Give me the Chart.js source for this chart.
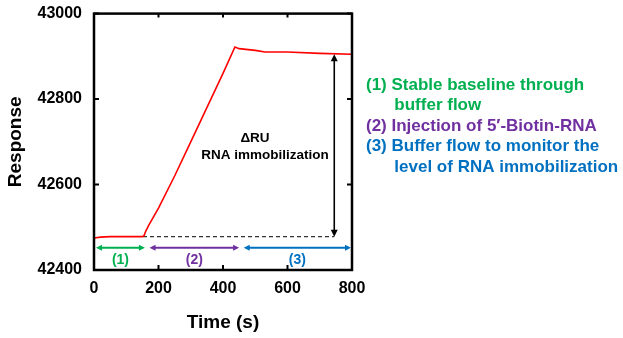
<!DOCTYPE html>
<html>
<head>
<meta charset="utf-8">
<script src="https://cdn.jsdelivr.net/npm/chart.js@4"></script>
<style>
  html, body { margin: 0; padding: 0; background: #fff; }
  #wrap { width: 623px; height: 338px; position: relative; }
</style>
</head>
<body>
<div id="wrap"><canvas id="sprChart" width="623" height="338"></canvas></div>
<script>
// sensorgram
const timeS = [0, 20, 50, 100, 150, 155, 160, 170, 200, 250, 300, 350, 400, 437, 450, 500, 530, 600, 700, 800];
const response = [42475, 42477, 42478, 42478, 42478, 42480, 42490, 42505, 42545, 42620, 42700, 42780, 42860, 42922, 42918, 42914, 42910, 42910, 42907, 42905];
const baselineY = 42478;
const baselineX = [152, 745];
const deltaX = 745;
const deltaTop = 42905;
const phaseY = 42452;
const phaseLabelY = 42422;
const phases = [
    { label: '(1)', from: 0, to: 158, color: '#00b050' },
    { label: '(2)', from: 166, to: 450, color: '#7030a0' },
    { label: '(3)', from: 458, to: 800, color: '#0070c0' }
];
const xTicks = [0, 200, 400, 600, 800];
const yTicks = [42400, 42600, 42800, 43000];
const notes = [
    { lines: ['(1) Stable baseline through', '      buffer flow'], color: '#00b050' },
    { lines: ['(2) Injection of 5\u2032-Biotin-RNA'], color: '#7030a0' },
    { lines: ['(3) Buffer flow to monitor the', '      level of RNA immobilization'], color: '#0070c0' }
];

const FONT = '"Liberation Sans", Arial, sans-serif';

function arrowHead(ctx, x, y, dx, dy, size) {
    // dx,dy = direction the arrow points
    const len = Math.hypot(dx, dy);
    const ux = dx / len, uy = dy / len;
    ctx.beginPath();
    ctx.moveTo(x, y);
    ctx.lineTo(x - ux * size - uy * size * 0.5, y - uy * size + ux * size * 0.5);
    ctx.lineTo(x - ux * size + uy * size * 0.5, y - uy * size - ux * size * 0.5);
    ctx.closePath();
    ctx.fill();
}

const extras = {
    id: 'extras',
    afterDatasetsDraw(chart) {
        const ctx = chart.ctx;
        const xs = chart.scales.x, ys = chart.scales.y;
        const a = chart.chartArea;
        ctx.save();

        // frame and inward ticks
        ctx.strokeStyle = '#000';
        ctx.lineWidth = 2.5;
        ctx.strokeRect(a.left, a.top, a.right - a.left, a.bottom - a.top);
        ctx.lineWidth = 2;
        xTicks.forEach(t => {
            const px = xs.getPixelForValue(t);
            ctx.beginPath();
            ctx.moveTo(px, a.bottom); ctx.lineTo(px, a.bottom - 5);
            ctx.moveTo(px, a.top); ctx.lineTo(px, a.top + 4);
            ctx.stroke();
        });
        yTicks.forEach(t => {
            const py = ys.getPixelForValue(t);
            ctx.beginPath();
            ctx.moveTo(a.left, py); ctx.lineTo(a.left + 5, py);
            ctx.moveTo(a.right, py); ctx.lineTo(a.right - 5, py);
            ctx.stroke();
        });

        // delta RU arrow
        const ax = xs.getPixelForValue(deltaX);
        const y0 = ys.getPixelForValue(baselineY);
        const y1 = ys.getPixelForValue(deltaTop);
        ctx.fillStyle = '#000';
        ctx.lineWidth = 1.6;
        ctx.beginPath();
        ctx.moveTo(ax, y0 - 5); ctx.lineTo(ax, y1 + 5);
        ctx.stroke();
        arrowHead(ctx, ax, y0, 0, 1, 7);
        arrowHead(ctx, ax, y1, 0, -1, 7);

        ctx.font = 'bold 13.5px ' + FONT;
        ctx.textAlign = 'center';
        ctx.textBaseline = 'middle';
        ctx.fillText('\u0394RU', 255, 138);
        ctx.fillText('RNA immobilization', 265, 155);

        // phase arrows
        const py = ys.getPixelForValue(phaseY);
        const ly = ys.getPixelForValue(phaseLabelY);
        phases.forEach(p => {
            const x0 = xs.getPixelForValue(p.from) + 2;
            const x1 = Math.min(xs.getPixelForValue(p.to), a.right - 1);
            ctx.strokeStyle = p.color;
            ctx.fillStyle = p.color;
            ctx.lineWidth = 2;
            ctx.beginPath();
            ctx.moveTo(x0 + 4, py); ctx.lineTo(x1 - 4, py);
            ctx.stroke();
            arrowHead(ctx, x0, py, -1, 0, 6);
            arrowHead(ctx, x1, py, 1, 0, 6);
            ctx.font = 'bold 14px ' + FONT;
            ctx.fillText(p.label, (x0 + x1) / 2, ly);
        });

        // notes on the right
        ctx.textAlign = 'left';
        ctx.font = 'bold 17px ' + FONT;
        let ny = 85;
        notes.forEach(n => {
            ctx.fillStyle = n.color;
            n.lines.forEach(line => {
                ctx.fillText(line, 366, ny);
                ny += 20.5;
            });
        });
        ctx.restore();
    }
};

new Chart(document.getElementById('sprChart'), {
    type: 'line',
    data: {
        datasets: [{
            data: timeS.map((t, i) => ({ x: t, y: response[i] })),
            borderColor: '#ff0000',
            borderWidth: 1.6,
            pointRadius: 0,
            tension: 0
        }, {
            data: baselineX.map(t => ({ x: t, y: baselineY })),
            borderColor: '#333',
            borderWidth: 1.4,
            borderDash: [4, 3],
            pointRadius: 0
        }]
    },
    options: {
        responsive: false,
        animation: false,
        layout: { padding: { top: 13, right: 271, left: 0, bottom: 0 } },
        plugins: { legend: { display: false }, tooltip: { enabled: false } },
        scales: {
            x: {
                type: 'linear', min: 0, max: 800,
                afterFit(s) { s.height = 68; },
                afterBuildTicks(s) { s.ticks = xTicks.map(v => ({ value: v })); },
                grid: { display: false },
                border: { display: false },
                ticks: { color: '#000', font: { family: FONT, size: 16, weight: 'bold' }, padding: 1, maxRotation: 0 },
                title: { display: true, text: 'Time (s)', color: '#000', font: { family: FONT, size: 19, weight: 'bold' }, padding: { top: 12 } }
            },
            y: {
                min: 42400, max: 43000,
                afterFit(s) { s.width = 94; },
                afterBuildTicks(s) { s.ticks = yTicks.map(v => ({ value: v })); },
                grid: { display: false },
                border: { display: false },
                ticks: { color: '#000', font: { family: FONT, size: 16, weight: 'bold' }, padding: 4, callback: v => String(v) },
                title: { display: true, text: 'Response', color: '#000', font: { family: FONT, size: 19, weight: 'bold' }, padding: { bottom: 0 } }
            }
        }
    },
    plugins: [extras]
});
</script>
</body>
</html>
